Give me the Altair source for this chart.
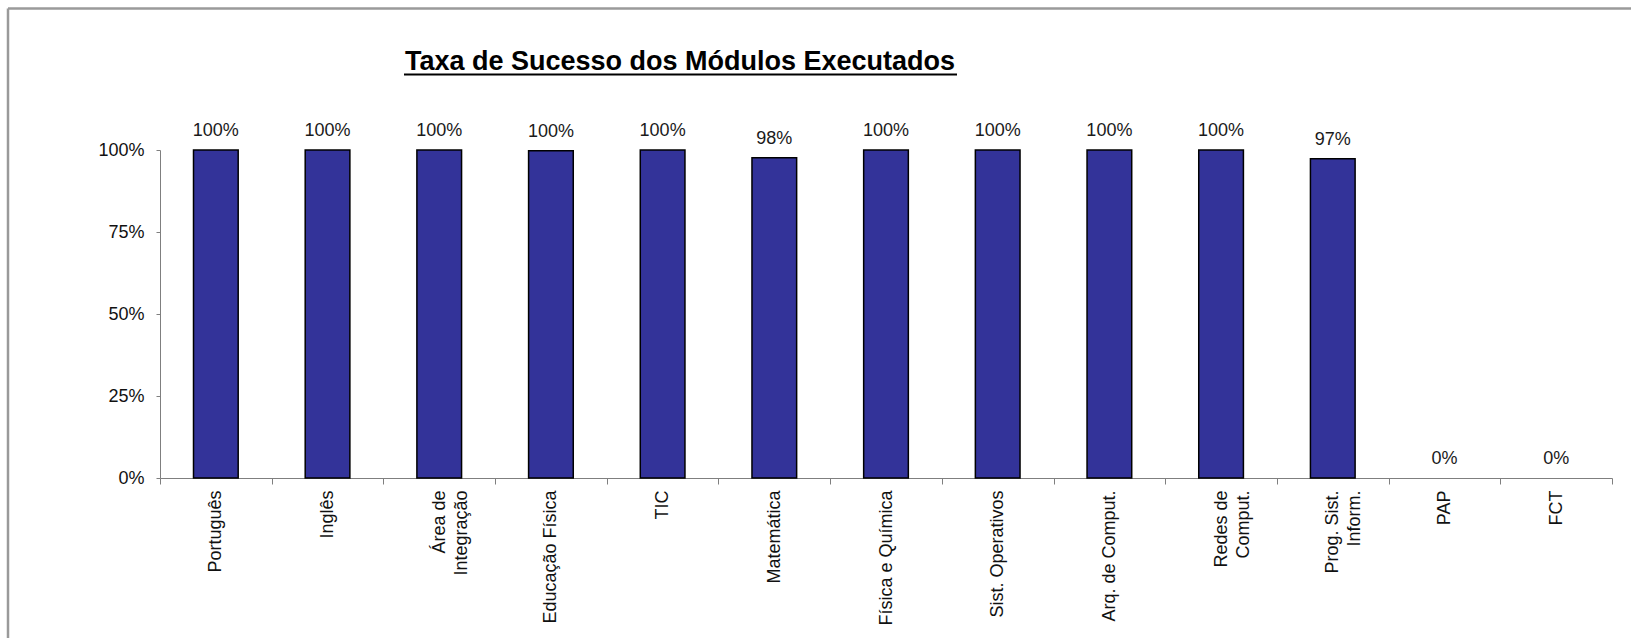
import altair as alt
import pandas as pd

categories = ["Português", "Inglês", "Área de|Integração", "Educação Física", "TIC",
              "Matemática", "Física e Química", "Sist. Operativos", "Arq. de Comput.",
              "Redes de|Comput.", "Prog. Sist.|Inform.", "PAP", "FCT"]
success = [1.0, 1.0, 1.0, 0.998, 1.0, 0.976, 1.0, 1.0, 1.0, 1.0, 0.973, 0.0, 0.0]
y_ticks = [0, 0.25, 0.5, 0.75, 1.0]
title_text = "Taxa de Sucesso dos Módulos Executados"

df = pd.DataFrame({"Módulo": categories, "Taxa": success})

FONT = "Liberation Sans"
W, H = 1452, 328

x_enc = alt.X("Módulo:N", sort=None, title=None,
              scale=alt.Scale(paddingInner=0, paddingOuter=0),
              axis=alt.Axis(labelAngle=-90, labelAlign="right", labelBaseline="middle",
                            labelFontSize=18, labelFont=FONT, labelColor="#111111",
                            labelPadding=6, tickSize=6, tickBand="extent",
                            domainColor="#7f7f7f", tickColor="#7f7f7f",
                            labelExpr="split(datum.label, '|')", labelLineHeight=22,
                            labelLimit=400))
y_enc = alt.Y("Taxa:Q", title=None,
              scale=alt.Scale(domain=[0, 1], nice=False),
              axis=alt.Axis(values=y_ticks, format=".0%", labelFontSize=18, labelFont=FONT,
                            labelColor="#111111", labelPadding=12, tickSize=4, grid=False,
                            domainColor="#7f7f7f", tickColor="#7f7f7f"))

base = alt.Chart(df)

bars = base.transform_filter("datum.Taxa > 0").mark_bar(
    width=alt.RelativeBandSize(0.4), color="#333399",
    stroke="#000000", strokeWidth=1.5).encode(x=x_enc, y=y_enc)

labels = base.mark_text(baseline="bottom", dy=-10, fontSize=18, font=FONT,
                        color="#1a1a1a").encode(
    x=alt.X("Módulo:N", sort=None),
    y=alt.Y("Taxa:Q"),
    text=alt.Text("Taxa:Q", format=".0%"))

one = pd.DataFrame({"d": [0]})

title_mark = alt.Chart(one).mark_text(
    text=title_text, font=FONT, fontSize=27, fontWeight="bold", color="#000000",
    align="center", baseline="alphabetic").encode(
    x=alt.value(520), y=alt.value(-80))

underline = alt.Chart(one).mark_rule(color="#000000", strokeWidth=2).encode(
    x=alt.value(244), x2=alt.value(797), y=alt.value(-75.5))

frame_top = alt.Chart(one).mark_rule(color="#9a9a9a", strokeWidth=2.5).encode(
    x=alt.value(-152), x2=alt.value(1631 - 160), y=alt.value(-141.5))

frame_left = alt.Chart(one).mark_rule(color="#9a9a9a", strokeWidth=2.5).encode(
    x=alt.value(-152), y=alt.value(-141.5), y2=alt.value(638 - 150))

chart = alt.layer(frame_top, frame_left, bars, labels, title_mark, underline).properties(
    width=W, height=H,
    autosize=alt.AutoSizeParams(type="none"),
    padding={"left": 160, "top": 150, "right": 19, "bottom": 160},
).configure(
    background="#ffffff",
    view=alt.ViewConfig(stroke="transparent", strokeWidth=0),
)

chart.save("out.html", embed_options={"renderer": "svg", "actions": False})
